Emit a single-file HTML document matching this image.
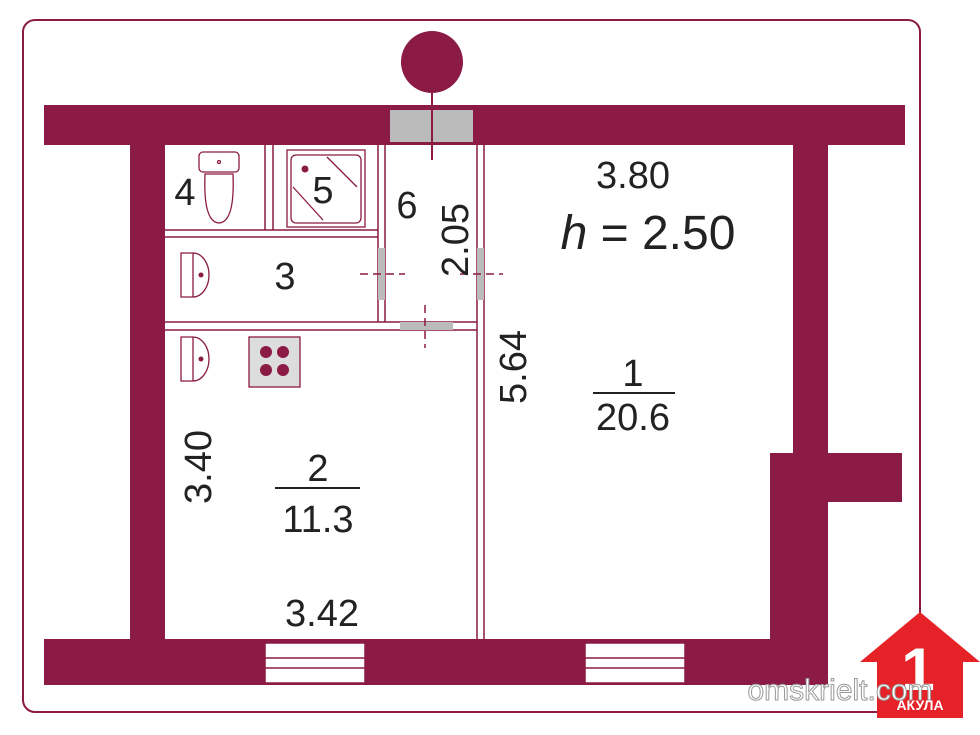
<!DOCTYPE html>
<html><head><meta charset="utf-8"><style>
body{margin:0;background:#fff;}
svg{display:block;}
text{font-family:"Liberation Sans",sans-serif;fill:#222;}
</style></head><body>
<svg width="980" height="735" viewBox="0 0 980 735">
<rect x="23" y="20" width="897" height="692" rx="12" fill="none" stroke="#8b1a44" stroke-width="2"/>
<g fill="#8b1a44">
<rect x="44" y="105" width="861" height="40"/>
<rect x="130" y="145" width="35" height="500"/>
<rect x="44" y="639" width="784" height="46"/>
<rect x="793" y="145" width="35" height="310"/>
<rect x="770" y="453" width="58" height="232"/>
<rect x="828" y="453" width="74" height="49"/>
<circle cx="432" cy="62" r="31"/>
</g>
<rect x="390" y="110" width="83" height="32" fill="#bbb"/>
<line x1="432" y1="60" x2="432" y2="160" stroke="#8b1a44" stroke-width="2"/>
<g fill="#fff" stroke="#8b1a44" stroke-width="1.5">
<rect x="265" y="643" width="100" height="40"/>
<rect x="585" y="643" width="100" height="40"/>
</g>
<g stroke="#8b1a44" stroke-width="1.5">
<line x1="265" y1="658" x2="365" y2="658"/><line x1="265" y1="668" x2="365" y2="668"/>
<line x1="585" y1="658" x2="685" y2="658"/><line x1="585" y1="668" x2="685" y2="668"/>
</g>
<g stroke="#8b1a44" stroke-width="1.5" fill="none">
<line x1="477" y1="145" x2="477" y2="639"/><line x1="484" y1="145" x2="484" y2="639"/>
<line x1="378" y1="145" x2="378" y2="322"/><line x1="385" y1="145" x2="385" y2="322"/>
<line x1="265" y1="145" x2="265" y2="230"/><line x1="273" y1="145" x2="273" y2="230"/>
<line x1="165" y1="230" x2="378" y2="230"/><line x1="165" y1="237" x2="378" y2="237"/>
<line x1="165" y1="322" x2="477" y2="322"/><line x1="165" y1="330" x2="477" y2="330"/>
</g>
<g fill="#bbb">
<rect x="378" y="248" width="7" height="52"/>
<rect x="477" y="248" width="7" height="52"/>
<rect x="400" y="322" width="53" height="8"/>
</g>
<g stroke="#8b1a44" stroke-width="1.5" stroke-dasharray="8,5">
<line x1="360" y1="274" x2="405" y2="274"/>
<line x1="460" y1="274" x2="503" y2="274"/>
<line x1="425" y1="305" x2="425" y2="348"/>
</g>
<g stroke="#8b1a44" stroke-width="1.3" fill="#fff">
<rect x="199" y="152" width="40" height="20" rx="4"/>
<path d="M205 174 Q203 222 219 223 Q235 222 233 174 Z"/>
<circle cx="219" cy="162" r="1.5"/>
<rect x="287" y="150" width="78" height="77"/>
<rect x="291" y="155" width="70" height="68" rx="5"/>
<line x1="327" y1="157" x2="357" y2="187"/><line x1="293" y1="187" x2="323" y2="220"/>
<path d="M181 253 h12 a16 22 0 0 1 0 44 h-12 Z"/>
<line x1="193" y1="253" x2="193" y2="297"/>
<path d="M181 337 h12 a16 22 0 0 1 0 44 h-12 Z"/>
<line x1="193" y1="337" x2="193" y2="381"/>
<rect x="249" y="337" width="51" height="50" fill="#ddd"/>
</g>
<g fill="#8b1a44">
<circle cx="305" cy="169" r="3.5"/>
<circle cx="201" cy="275" r="2.5"/><circle cx="201" cy="359" r="2.5"/>
<circle cx="266" cy="352" r="6"/><circle cx="283" cy="352" r="6"/>
<circle cx="266" cy="370" r="6"/><circle cx="283" cy="370" r="6"/>
</g>
<g font-size="38">
<text x="185" y="205" text-anchor="middle">4</text>
<text x="323" y="203" text-anchor="middle">5</text>
<text x="407" y="218" text-anchor="middle">6</text>
<text x="285" y="289" text-anchor="middle">3</text>
<text x="633" y="188" text-anchor="middle">3.80</text>
<text x="633" y="386" text-anchor="middle">1</text>
<text x="633" y="430" text-anchor="middle">20.6</text>
<text x="318" y="481" text-anchor="middle">2</text>
<text x="318" y="532" text-anchor="middle">11.3</text>
<text x="322" y="626" text-anchor="middle">3.42</text>
<text transform="translate(211,467) rotate(-90)" text-anchor="middle">3.40</text>
<text transform="translate(526,367) rotate(-90)" text-anchor="middle">5.64</text>
<text transform="translate(468,240) rotate(-90)" text-anchor="middle">2.05</text>
</g>
<text x="648" y="249" font-size="48" text-anchor="middle"><tspan font-style="italic">h</tspan> = 2.50</text>
<line x1="593" y1="393" x2="675" y2="393" stroke="#222" stroke-width="2"/>
<line x1="275" y1="488" x2="360" y2="488" stroke="#222" stroke-width="2"/>
<path d="M920 612 L980 662 L963 662 L963 718 L877 718 L877 662 L860 662 Z" fill="#e52228"/>
<text x="918" y="690" font-size="60" font-weight="bold" text-anchor="middle" style="fill:#fff">1</text>
<text x="920" y="710" font-size="14" font-weight="bold" text-anchor="middle" style="fill:#fff">АКУЛА</text>
<text x="840" y="700" font-size="30" text-anchor="middle" style="fill:#fff;stroke:#999;stroke-width:1">omskrielt.com</text>
</svg>
</body></html>
